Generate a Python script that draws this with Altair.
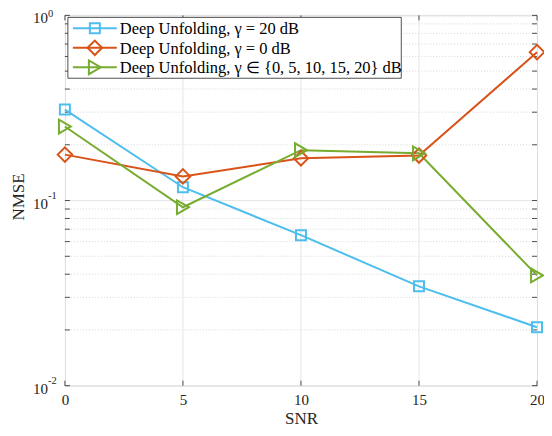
import altair as alt
import pandas as pd

# ---- data ----
snr = [0, 5, 10, 15, 20]
nmse_gamma20 = [0.31, 0.118, 0.065, 0.0344, 0.0207]
nmse_gamma0 = [0.177, 0.135, 0.169, 0.175, 0.633]
nmse_gammamix = [0.251, 0.092, 0.187, 0.180, 0.0394]

series_names = [
    "Deep Unfolding, γ = 20 dB",
    "Deep Unfolding, γ = 0 dB",
    "Deep Unfolding, γ ∈ {0, 5, 10, 15, 20} dB",
]
series_values = [nmse_gamma20, nmse_gamma0, nmse_gammamix]
series_colors = ["#4DBEEE", "#D95319", "#77AC30"]
series_shapes = ["square", "diamond", "triangle-right"]
series_sizes = [100, 210, 190]

x_ticks = [0, 5, 10, 15, 20]
x_grid = [5, 10, 15]
y_major = [0.01, 0.1, 1]
y_exponents = ["-2", "-1", "0"]
y_minor = [0.02, 0.03, 0.04, 0.05, 0.06, 0.07, 0.08, 0.09,
           0.2, 0.3, 0.4, 0.5, 0.6, 0.7, 0.8, 0.9]

W, H = 473, 371
FONT = "Liberation Serif"
AX = "#262626"

rows = []
for name, vals in zip(series_names, series_values):
    for s, v in zip(snr, vals):
        rows.append({"series": name, "snr": s, "nmse": v})
df = pd.DataFrame(rows)

xs = alt.Scale(domain=[0, 20], nice=False, zero=False)
ys = alt.Scale(type="log", domain=[0.01, 1], nice=False)
cs = alt.Scale(domain=series_names, range=series_colors)

x_axis = alt.Axis(
    values=x_ticks, title="SNR", grid=False, ticks=False, domain=False,
    labelFont=FONT, labelFontSize=15, labelColor=AX, labelPadding=7, labelFlush=False,
    titleFont=FONT, titleFontSize=17, titleFontWeight="normal", titleColor=AX, titlePadding=3)
y_axis = alt.Axis(
    title="NMSE", labels=False, ticks=False, domain=False, grid=False,
    titleFont=FONT, titleFontSize=17, titleFontWeight="normal", titleColor=AX,
    titleX=-37, titleY=H / 2 - 4, titleAlign="center", titleBaseline="bottom", titleAngle=270)

layers = []

lines = alt.Chart(df).mark_line(strokeWidth=2).encode(
    x=alt.X("snr:Q", scale=xs, axis=x_axis),
    y=alt.Y("nmse:Q", scale=ys, axis=y_axis),
    color=alt.Color("series:N", scale=cs, legend=None),
)

# grid lines
ymaj_df = pd.DataFrame({"v": y_major})
ymin_df = pd.DataFrame({"v": y_minor})
xg_df = pd.DataFrame({"v": x_grid})
xt_df = pd.DataFrame({"v": x_ticks})
yall_df = pd.DataFrame({"v": y_major + y_minor})

layers.append(alt.Chart(ymin_df).mark_rule(color="#cccccc", strokeWidth=0.8, strokeDash=[1, 2]).encode(
    x=alt.value(0), x2=alt.value(W), y=alt.Y("v:Q", scale=ys, axis=y_axis)))
layers.append(alt.Chart(ymaj_df).mark_rule(color="#dedede", strokeWidth=0.8).encode(
    x=alt.value(0), x2=alt.value(W), y=alt.Y("v:Q", scale=ys, axis=y_axis)))
layers.append(alt.Chart(xg_df).mark_rule(color="#dedede", strokeWidth=0.8).encode(
    x=alt.X("v:Q", scale=xs, axis=x_axis), y=alt.value(0), y2=alt.value(H)))

# inward ticks
layers.append(alt.Chart(yall_df).mark_rule(color=AX, strokeWidth=0.8).encode(
    x=alt.value(0), x2=alt.value(5), y=alt.Y("v:Q", scale=ys, axis=y_axis)))
layers.append(alt.Chart(yall_df).mark_rule(color=AX, strokeWidth=0.8).encode(
    x=alt.value(W - 5), x2=alt.value(W), y=alt.Y("v:Q", scale=ys, axis=y_axis)))
layers.append(alt.Chart(xt_df).mark_rule(color=AX, strokeWidth=0.8).encode(
    x=alt.X("v:Q", scale=xs, axis=x_axis), y=alt.value(H - 5), y2=alt.value(H)))
layers.append(alt.Chart(xt_df).mark_rule(color=AX, strokeWidth=0.8).encode(
    x=alt.X("v:Q", scale=xs, axis=x_axis), y=alt.value(0), y2=alt.value(5)))

# y tick labels 10^k
ylab_df = pd.DataFrame({"v": y_major, "base": ["10"] * len(y_major), "exp": y_exponents})
layers.append(alt.Chart(ylab_df).mark_text(align="right", baseline="middle", dy=3, font=FONT,
                                            fontSize=15, color=AX).encode(
    x=alt.value(-17), y=alt.Y("v:Q", scale=ys, axis=y_axis), text="base:N"))
layers.append(alt.Chart(ylab_df).transform_filter(alt.datum.v < 1).mark_text(
    align="left", baseline="middle", dy=-5, font=FONT, fontSize=10.5, color=AX).encode(
    x=alt.value(-17), y=alt.Y("v:Q", scale=ys, axis=y_axis), text="exp:N"))
layers.append(alt.Chart(ylab_df).transform_filter(alt.datum.v >= 1).mark_text(
    align="left", baseline="middle", dy=-1.5, font=FONT, fontSize=10.5, color=AX).encode(
    x=alt.value(-17), y=alt.Y("v:Q", scale=ys, axis=y_axis), text="exp:N"))

layers.append(lines)

# markers
for name, shp, sz, col in zip(series_names, series_shapes, series_sizes, series_colors):
    layers.append(alt.Chart(df).transform_filter(alt.datum.series == name).mark_point(
        shape=shp, size=sz, filled=False, strokeWidth=2, color=col, opacity=1).encode(
        x=alt.X("snr:Q", scale=xs, axis=x_axis), y=alt.Y("nmse:Q", scale=ys, axis=y_axis)))

# legend
layers.append(alt.Chart(pd.DataFrame({"a": [0]})).mark_rect(fill="white", stroke=AX, strokeWidth=0.8).encode(
    x=alt.value(3), x2=alt.value(337), y=alt.value(2), y2=alt.value(63)))
for i, (name, shp, sz, col) in enumerate(zip(series_names, series_shapes, series_sizes, series_colors)):
    ly = 13 + 19.5 * i
    ldf = pd.DataFrame({"series": [name]})
    layers.append(alt.Chart(ldf).mark_rule(strokeWidth=2, color=col).encode(
        x=alt.value(8), x2=alt.value(52), y=alt.value(ly)))
    layers.append(alt.Chart(ldf).mark_point(shape=shp, size=sz, filled=False, strokeWidth=2,
                                            color=col, opacity=1).encode(
        x=alt.value(30), y=alt.value(ly)))
    layers.append(alt.Chart(ldf).mark_text(align="left", baseline="middle", font=FONT, fontSize=16.5,
                                           color="black").encode(
        x=alt.value(55), y=alt.value(ly + 1), text="series:N"))

chart = alt.layer(*layers).properties(
    width=W, height=H,
    autosize=alt.AutoSizeParams(type="none"),
    padding={"left": 57, "top": 7, "right": 7, "bottom": 42},
).configure_view(stroke=AX, strokeWidth=0.8).configure(background="white")

chart.save("out.html", embed_options={"renderer": "svg", "actions": False})
